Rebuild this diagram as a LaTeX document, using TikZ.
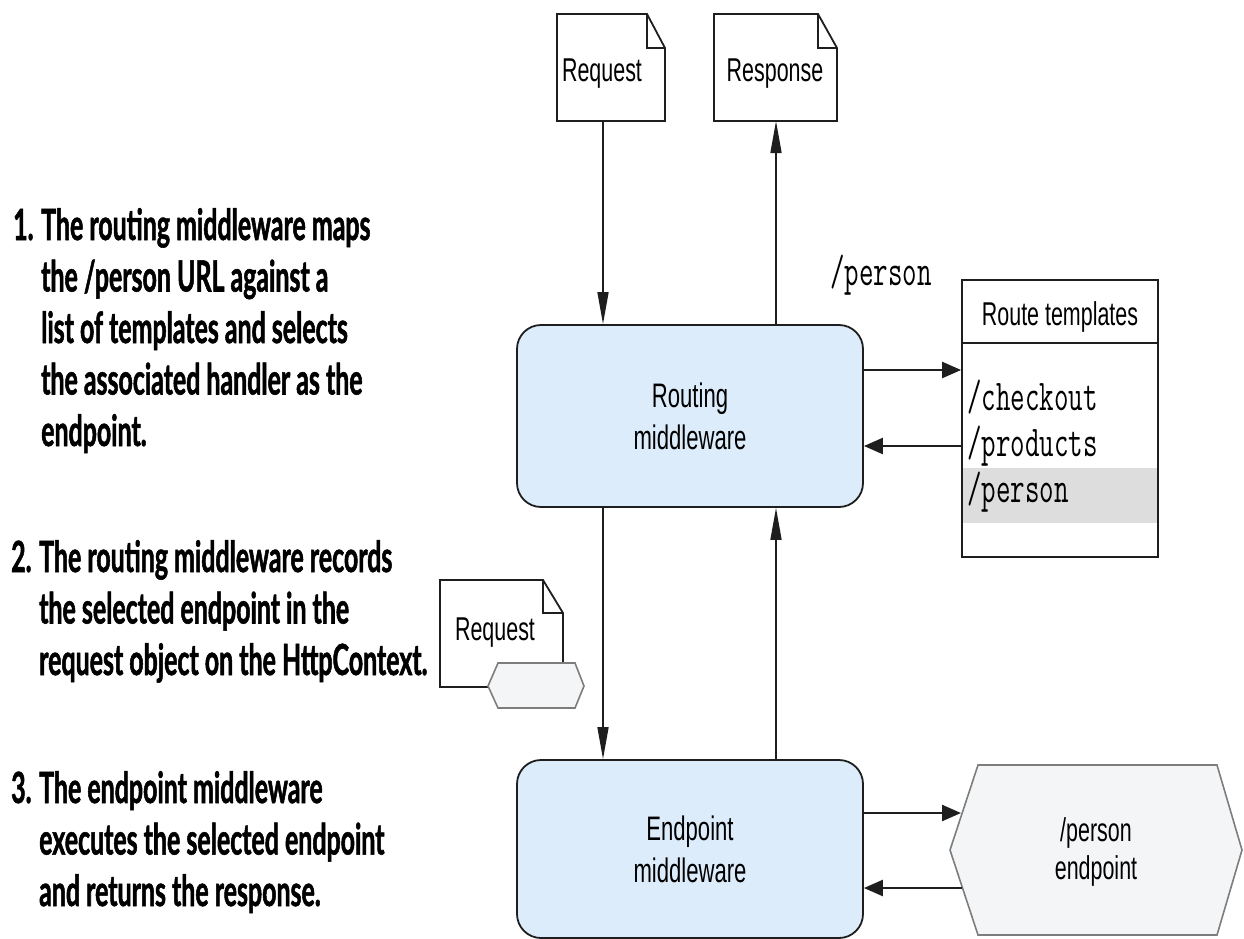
\documentclass[tikz,border=0pt]{standalone}
\usepackage{fontspec}
\usetikzlibrary{arrows.meta}
\newfontfamily\lblfont[FakeStretch=0.65]{Liberation Sans}
\newfontfamily\monof[FakeStretch=0.64]{Latin Modern Mono}
\newfontfamily\annf[FakeStretch=0.58,BoldFeatures={FakeBold=1.2}]{Lato}
\definecolor{boxblue}{RGB}{221,236,250}
\definecolor{hexfill}{RGB}{244,245,247}
\definecolor{hexline}{RGB}{125,125,125}
\definecolor{band}{RGB}{221,221,221}
\definecolor{ink}{RGB}{30,30,30}
\begin{document}
\begin{tikzpicture}[x=1pt,y=-1pt,
 outl/.style={draw=ink, line width=1.8pt, line join=miter},
 mwbox/.style={draw=ink, line width=1.8pt, fill=boxblue, rounded corners=24pt, minimum width=346pt, minimum height=182pt, align=center, font=\lblfont\fontsize{34}{42}\selectfont, inner sep=0pt},
 hexs/.style={draw=hexline, line width=1.6pt, fill=hexfill, line join=miter},
 vflow/.style={draw=ink, line width=1.6pt, -{Triangle[length=32pt,width=11pt]}},
 hflow/.style={draw=ink, line width=2.4pt, -{Triangle[length=19pt,width=16pt]}},
 lbl/.style={font=\lblfont\fontsize{33}{38}\selectfont, inner sep=0pt, anchor=base},
 mono/.style={font=\monof\fontsize{44}{46}\selectfont, inner sep=0pt, anchor=base west},
 ann/.style={font=\annf\bfseries\fontsize{43}{51.5}\selectfont, inner sep=0pt, anchor=base west}
]
\useasboundingbox (0,0) rectangle (1244,939);

% ---- top documents
\draw[outl, fill=white] (557,121) -- (557,14) -- (647,14) -- (665,48) -- (665,121) -- cycle;
\draw[outl] (647,14) -- (647,48) -- (665,48);
\node[lbl] (treq) at (602,82) {Request};
\coordinate (reqb) at (603,121);

\draw[outl, fill=white] (714,121) -- (714,14) -- (818,14) -- (837,48) -- (837,121) -- cycle;
\draw[outl] (818,14) -- (818,48) -- (837,48);
\node[lbl] (tres) at (775,82) {Response};
\coordinate (resb) at (776,121);

% ---- middleware boxes
\node[mwbox] (rout) at (690,416) {Routing\\middleware};
\node[mwbox, minimum height=178pt] (endp) at (690,849) {Endpoint\\middleware};

% ---- vertical flow
\draw[vflow] (reqb) -- (reqb |- rout.north);
\draw[vflow] (resb |- rout.north) -- (resb);
\draw[vflow] (rout.south -| reqb) -- (endp.north -| reqb);
\draw[vflow] (endp.north -| resb) -- (rout.south -| resb);

% ---- route templates table
\node[mono] (pers) at (830,285) {/person};
\fill[band] (962,468) rectangle (1158,523);
\node[draw=ink, line width=1.8pt, minimum width=196pt, minimum height=277pt, inner sep=0pt] (tmpl) at (1060,418.5) {};
\draw[draw=ink, line width=2.6pt] (tmpl.west |- 0,343) -- (tmpl.east |- 0,343);
\node[lbl] (rth) at (1060,325) {Route templates};
\node[mono] (i1) at (967,410) {/checkout};
\node[mono] (i2) at (967,456) {/products};
\node[mono] (i3) at (967,502) {/person};

\coordinate (ya) at (0,370);
\coordinate (yb) at (0,446);
\draw[hflow] (rout.east |- ya) -- (tmpl.west |- ya);
\draw[hflow] (tmpl.west |- yb) -- (rout.east |- yb);

% ---- endpoint hexagon
\draw[hexs] (950,850) -- (978,765) -- (1217,765) -- (1242,850) -- (1217,935) -- (978,935) -- cycle;
\node[font=\lblfont\fontsize{33}{38}\selectfont, align=center, inner sep=0pt] (hext) at (1096,852) {/person\\endpoint};
\coordinate (hxa) at (961,813);
\coordinate (hxb) at (962,888);
\draw[hflow] (endp.east |- hxa) -- (hxa);
\draw[hflow] (hxb) -- (endp.east |- hxb);

% ---- request with endpoint attached
\draw[outl, fill=white] (440,687) -- (440,580) -- (543,580) -- (563,613) -- (563,687) -- cycle;
\draw[outl] (543,580) -- (543,613) -- (563,613);
\node[lbl] (mreq) at (495,640) {Request};
\draw[hexs] (488,686) -- (498,663) -- (575,663) -- (584,686) -- (575,708) -- (498,708) -- cycle;

% ---- annotations
\node[ann] (n1) at (13,240) {\parbox[t]{440pt}{\raggedright
\makebox[28pt][l]{1.}The routing middleware maps\\
\hspace*{28pt}the /person URL against a\\
\hspace*{28pt}list of templates and selects\\
\hspace*{28pt}the associated handler as the\\
\hspace*{28pt}endpoint.}};
\node[ann] (n2) at (11,572) {\parbox[t]{440pt}{\raggedright
\makebox[28pt][l]{2.}The routing middleware records\\
\hspace*{28pt}the selected endpoint in the\\
\hspace*{28pt}request object on the HttpContext.}};
\node[ann] (n3) at (11,803) {\parbox[t]{440pt}{\raggedright
\makebox[28pt][l]{3.}The endpoint middleware\\
\hspace*{28pt}executes the selected endpoint\\
\hspace*{28pt}and returns the response.}};
\end{tikzpicture}
\end{document}
